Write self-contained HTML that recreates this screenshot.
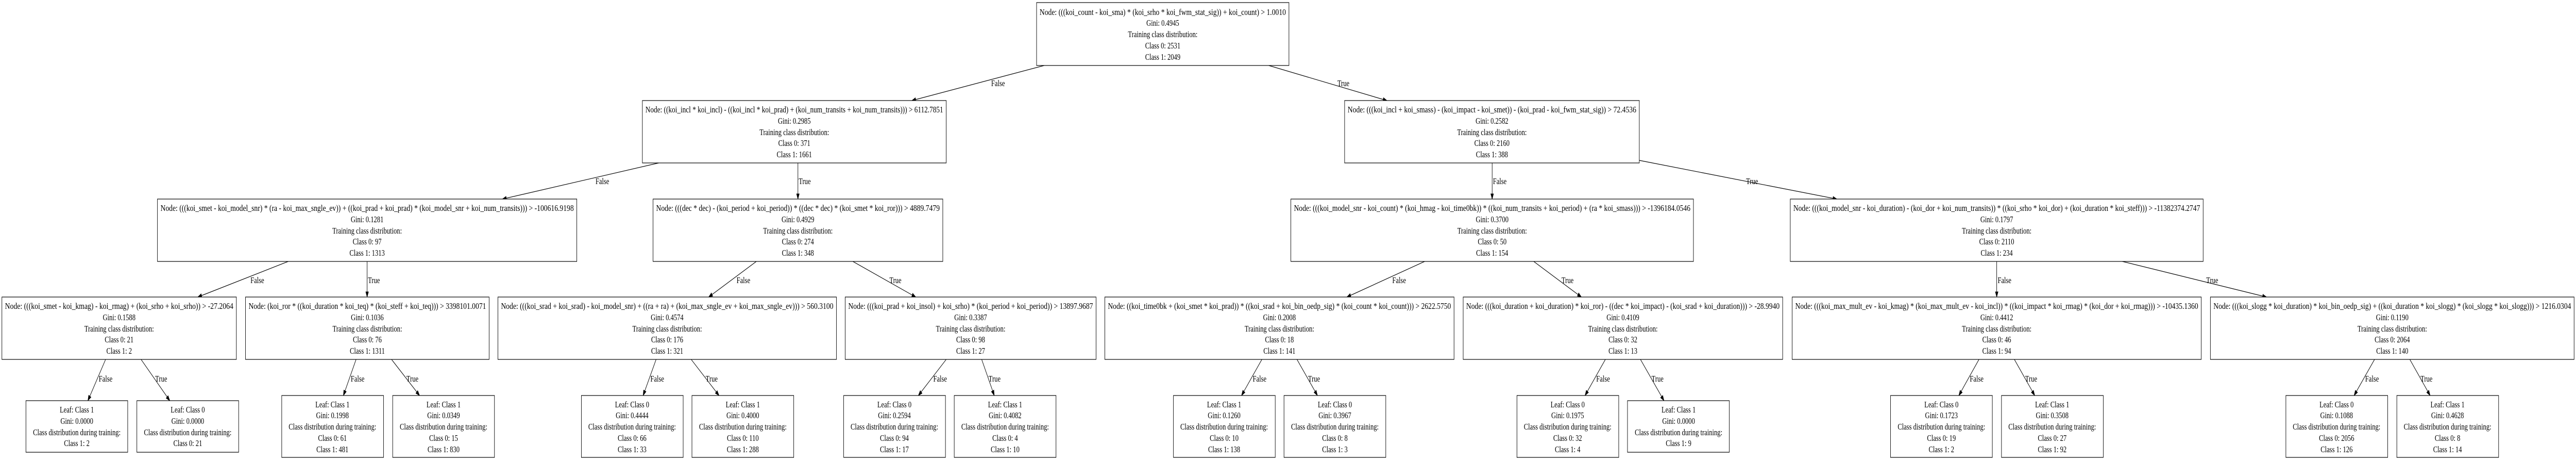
<!DOCTYPE html>
<html><head><meta charset="utf-8"><style>
html,body{margin:0;padding:0;background:#fff;overflow:hidden;width:100%;height:100%;}
svg{display:block;width:100vw;height:100vh;}
text{font-family:"Liberation Serif","Times New Roman",serif;font-size:17px;fill:#000;}
.m{text-anchor:middle;}
rect{fill:#fff;stroke:#000;stroke-width:1.2;}
line{stroke:#000;stroke-width:1.2;}
polygon{fill:#000;stroke:#000;stroke-width:1;}
</style></head><body>
<svg viewBox="0 0 6757 894" preserveAspectRatio="none" xmlns="http://www.w3.org/2000/svg">
<rect x="0" y="0" width="6757" height="894" style="fill:#fff;stroke:none"/>

<line x1="2739" y1="127" x2="2392" y2="195"/><polygon points="2392,195 2402.5,196.5 2401.1,189.7"/>
<text x="2600" y="167">False</text>
<line x1="3328" y1="127" x2="3638" y2="195"/><polygon points="3638,195 3627.5,196.3 3629,189.5"/>
<text x="3508" y="167">True</text>

<line x1="1728" y1="316" x2="1318" y2="386"/><polygon points="1318,386 1328.5,387.8 1327.3,380.9"/>
<text x="1562" y="357">False</text>
<line x1="2093" y1="316" x2="2093" y2="386"/><polygon points="2093,386 2089.5,376 2096.5,376"/>
<text x="2095" y="357">True</text>
<line x1="3914" y1="316" x2="3914" y2="386"/><polygon points="3914,386 3910.5,376 3917.5,376"/>
<text x="3916" y="357">False</text>
<line x1="4300" y1="311" x2="4818" y2="386"/><polygon points="4818,386 4807.6,388.1 4808.6,381.1"/>
<text x="4580" y="357">True</text>

<line x1="756" y1="507" x2="519" y2="576"/><polygon points="519,576 529.6,576.6 527.6,569.8"/>
<text x="657" y="549">False</text>
<line x1="963" y1="507" x2="963" y2="576"/><polygon points="963,576 959.5,566 966.5,566"/>
<text x="965" y="549">True</text>
<line x1="1984" y1="507" x2="1859" y2="576"/><polygon points="1859,576 1869.4,574.3 1866,568.1"/>
<text x="1932" y="549">False</text>
<line x1="2237" y1="507" x2="2402" y2="576"/><polygon points="2402,576 2391.4,575.4 2394.1,568.9"/>
<text x="2333" y="549">True</text>
<line x1="3737" y1="507" x2="3533" y2="576"/><polygon points="3533,576 3543.6,576.1 3541.4,569.5"/>
<text x="3652" y="549">False</text>
<line x1="4023" y1="507" x2="4148" y2="576"/><polygon points="4148,576 4137.6,574.3 4141,568.1"/>
<text x="4096" y="549">True</text>
<line x1="5237.5" y1="507" x2="5237.5" y2="576"/><polygon points="5237.5,576 5234,566 5241,566"/>
<text x="5240" y="549">False</text>
<line x1="5567" y1="507" x2="5945" y2="576"/><polygon points="5945,576 5934.6,577.6 5935.8,570.8"/>
<text x="5787" y="549">True</text>

<line x1="277" y1="697" x2="230.6" y2="777"/><polygon points="230.6,777 238.6,770.2 232.6,766.6"/>
<text x="259" y="740">False</text>
<line x1="370" y1="697" x2="445.3" y2="777"/><polygon points="445.3,777 435.9,772.1 440.9,767.3"/>
<text x="407" y="740">True</text>
<line x1="934" y1="697" x2="900.8" y2="767"/><polygon points="900.8,767 908.3,759.5 901.9,756.5"/>
<text x="920" y="740">False</text>
<line x1="1027" y1="697" x2="1100.5" y2="767"/><polygon points="1100.5,767 1090.9,762.6 1095.7,757.6"/>
<text x="1066" y="740">True</text>
<line x1="1721" y1="697" x2="1687" y2="767"/><polygon points="1687,767 1694.5,759.5 1688.2,756.5"/>
<text x="1706" y="740">False</text>
<line x1="1813" y1="697" x2="1886" y2="767"/><polygon points="1886,767 1876.4,762.6 1881.2,757.6"/>
<text x="1851" y="740">True</text>
<line x1="2482" y1="697" x2="2409" y2="767"/><polygon points="2409,767 2418.6,762.6 2413.8,757.6"/>
<text x="2448" y="740">False</text>
<line x1="2575" y1="697" x2="2608" y2="767"/><polygon points="2608,767 2600.5,759.5 2606.9,756.5"/>
<text x="2593" y="740">True</text>
<line x1="3310" y1="697" x2="3256.7" y2="767"/><polygon points="3256.7,767 3265.6,761.1 3260,756.9"/>
<text x="3286" y="740">False</text>
<line x1="3402" y1="697" x2="3455.7" y2="767"/><polygon points="3455.7,767 3446.8,761.1 3452.4,756.9"/>
<text x="3431" y="740">True</text>
<line x1="4211" y1="697" x2="4157.7" y2="767"/><polygon points="4157.7,767 4166.6,761.1 4161,756.9"/>
<text x="4187" y="740">False</text>
<line x1="4303" y1="697" x2="4364.7" y2="777"/><polygon points="4364.7,777 4355.8,771.2 4361.4,767"/>
<text x="4332" y="740">True</text>
<line x1="5191" y1="697" x2="5138.2" y2="767"/><polygon points="5138.2,767 5147.1,761.1 5141.5,756.9"/>
<text x="5167" y="740">False</text>
<line x1="5283.8" y1="697" x2="5337.2" y2="767"/><polygon points="5337.2,767 5328.3,761.1 5333.9,756.9"/>
<text x="5312" y="740">True</text>
<line x1="6228.6" y1="697" x2="6175" y2="767"/><polygon points="6175,767 6183.9,761.1 6178.3,756.9"/>
<text x="6204" y="740">False</text>
<line x1="6321.1" y1="697" x2="6374.3" y2="767"/><polygon points="6374.3,767 6365.4,761.1 6371,756.9"/>
<text x="6349" y="740">True</text>

<rect x="2719" y="5" width="662" height="122"/>
<text class="m" x="3050" y="29" textLength="646" lengthAdjust="spacingAndGlyphs">Node: (((koi_count - koi_sma) * (koi_srho * koi_fwm_stat_sig)) + koi_count) &gt; 1.0010</text>
<text class="m" x="3050" y="50">Gini: 0.4945</text>
<text class="m" x="3050" y="72">Training class distribution:</text>
<text class="m" x="3050" y="94">Class 0: 2531</text>
<text class="m" x="3050" y="116">Class 1: 2049</text>

<rect x="1685" y="195" width="797" height="121"/>
<text class="m" x="2083.5" y="218" textLength="781" lengthAdjust="spacingAndGlyphs">Node: ((koi_incl * koi_incl) - ((koi_incl * koi_prad) + (koi_num_transits + koi_num_transits))) &gt; 6112.7851</text>
<text class="m" x="2083.5" y="240">Gini: 0.2985</text>
<text class="m" x="2083.5" y="262">Training class distribution:</text>
<text class="m" x="2083.5" y="283">Class 0: 371</text>
<text class="m" x="2083.5" y="305">Class 1: 1661</text>

<rect x="3527" y="195" width="773" height="121"/>
<text class="m" x="3913.5" y="218" textLength="757" lengthAdjust="spacingAndGlyphs">Node: (((koi_incl + koi_smass) - (koi_impact - koi_smet)) - (koi_prad - koi_fwm_stat_sig)) &gt; 72.4536</text>
<text class="m" x="3913.5" y="240">Gini: 0.2582</text>
<text class="m" x="3913.5" y="262">Training class distribution:</text>
<text class="m" x="3913.5" y="283">Class 0: 2160</text>
<text class="m" x="3913.5" y="305">Class 1: 388</text>

<rect x="413" y="386" width="1100" height="121"/>
<text class="m" x="963" y="409" textLength="1084" lengthAdjust="spacingAndGlyphs">Node: (((koi_smet - koi_model_snr) * (ra - koi_max_sngle_ev)) + ((koi_prad + koi_prad) * (koi_model_snr + koi_num_transits))) &gt; -100616.9198</text>
<text class="m" x="963" y="431">Gini: 0.1281</text>
<text class="m" x="963" y="453">Training class distribution:</text>
<text class="m" x="963" y="474">Class 0: 97</text>
<text class="m" x="963" y="496">Class 1: 1313</text>

<rect x="1713" y="386" width="760" height="121"/>
<text class="m" x="2093" y="409" textLength="744" lengthAdjust="spacingAndGlyphs">Node: (((dec * dec) - (koi_period + koi_period)) * ((dec * dec) * (koi_smet * koi_ror))) &gt; 4889.7479</text>
<text class="m" x="2093" y="431">Gini: 0.4929</text>
<text class="m" x="2093" y="453">Training class distribution:</text>
<text class="m" x="2093" y="474">Class 0: 274</text>
<text class="m" x="2093" y="496">Class 1: 348</text>

<rect x="3386" y="386" width="1056" height="121"/>
<text class="m" x="3914" y="409" textLength="1040" lengthAdjust="spacingAndGlyphs">Node: (((koi_model_snr - koi_count) * (koi_hmag - koi_time0bk)) * ((koi_num_transits + koi_period) + (ra * koi_smass))) &gt; -1396184.0546</text>
<text class="m" x="3914" y="431">Gini: 0.3700</text>
<text class="m" x="3914" y="453">Training class distribution:</text>
<text class="m" x="3914" y="474">Class 0: 50</text>
<text class="m" x="3914" y="496">Class 1: 154</text>

<rect x="4696" y="386" width="1083" height="121"/>
<text class="m" x="5237.5" y="409" textLength="1067" lengthAdjust="spacingAndGlyphs">Node: (((koi_model_snr - koi_duration) - (koi_dor + koi_num_transits)) * ((koi_srho * koi_dor) + (koi_duration * koi_steff))) &gt; -11382374.2747</text>
<text class="m" x="5237.5" y="431">Gini: 0.1797</text>
<text class="m" x="5237.5" y="453">Training class distribution:</text>
<text class="m" x="5237.5" y="474">Class 0: 2110</text>
<text class="m" x="5237.5" y="496">Class 1: 234</text>

<rect x="5" y="576" width="615" height="121"/>
<text class="m" x="312.5" y="599" textLength="599" lengthAdjust="spacingAndGlyphs">Node: (((koi_smet - koi_kmag) - koi_rmag) + (koi_srho + koi_srho)) &gt; -27.2064</text>
<text class="m" x="312.5" y="621">Gini: 0.1588</text>
<text class="m" x="312.5" y="643">Training class distribution:</text>
<text class="m" x="312.5" y="664">Class 0: 21</text>
<text class="m" x="312.5" y="686">Class 1: 2</text>

<rect x="644" y="576" width="639" height="121"/>
<text class="m" x="963.5" y="599" textLength="623" lengthAdjust="spacingAndGlyphs">Node: (koi_ror * ((koi_duration * koi_teq) * (koi_steff + koi_teq))) &gt; 3398101.0071</text>
<text class="m" x="963.5" y="621">Gini: 0.1036</text>
<text class="m" x="963.5" y="643">Training class distribution:</text>
<text class="m" x="963.5" y="664">Class 0: 76</text>
<text class="m" x="963.5" y="686">Class 1: 1311</text>

<rect x="1306" y="576" width="888" height="121"/>
<text class="m" x="1750" y="599" textLength="872" lengthAdjust="spacingAndGlyphs">Node: (((koi_srad + koi_srad) - koi_model_snr) + ((ra + ra) + (koi_max_sngle_ev + koi_max_sngle_ev))) &gt; 560.3100</text>
<text class="m" x="1750" y="621">Gini: 0.4574</text>
<text class="m" x="1750" y="643">Training class distribution:</text>
<text class="m" x="1750" y="664">Class 0: 176</text>
<text class="m" x="1750" y="686">Class 1: 321</text>

<rect x="2217" y="576" width="658" height="121"/>
<text class="m" x="2546" y="599" textLength="642" lengthAdjust="spacingAndGlyphs">Node: (((koi_prad + koi_insol) + koi_srho) * (koi_period + koi_period)) &gt; 13897.9687</text>
<text class="m" x="2546" y="621">Gini: 0.3387</text>
<text class="m" x="2546" y="643">Training class distribution:</text>
<text class="m" x="2546" y="664">Class 0: 98</text>
<text class="m" x="2546" y="686">Class 1: 27</text>

<rect x="2898" y="576" width="916" height="121"/>
<text class="m" x="3356" y="599" textLength="900" lengthAdjust="spacingAndGlyphs">Node: ((koi_time0bk + (koi_smet * koi_prad)) * ((koi_srad + koi_bin_oedp_sig) * (koi_count * koi_count))) &gt; 2622.5750</text>
<text class="m" x="3356" y="621">Gini: 0.2008</text>
<text class="m" x="3356" y="643">Training class distribution:</text>
<text class="m" x="3356" y="664">Class 0: 18</text>
<text class="m" x="3356" y="686">Class 1: 141</text>

<rect x="3838" y="576" width="838" height="121"/>
<text class="m" x="4257" y="599" textLength="822" lengthAdjust="spacingAndGlyphs">Node: (((koi_duration + koi_duration) * koi_ror) - ((dec * koi_impact) - (koi_srad + koi_duration))) &gt; -28.9940</text>
<text class="m" x="4257" y="621">Gini: 0.4109</text>
<text class="m" x="4257" y="643">Training class distribution:</text>
<text class="m" x="4257" y="664">Class 0: 32</text>
<text class="m" x="4257" y="686">Class 1: 13</text>

<rect x="4701" y="576" width="1073" height="121"/>
<text class="m" x="5237.5" y="599" textLength="1057" lengthAdjust="spacingAndGlyphs">Node: (((koi_max_mult_ev - koi_kmag) * (koi_max_mult_ev - koi_incl)) * ((koi_impact * koi_rmag) * (koi_dor + koi_rmag))) &gt; -10435.1360</text>
<text class="m" x="5237.5" y="621">Gini: 0.4412</text>
<text class="m" x="5237.5" y="643">Training class distribution:</text>
<text class="m" x="5237.5" y="664">Class 0: 46</text>
<text class="m" x="5237.5" y="686">Class 1: 94</text>

<rect x="5798" y="576" width="954" height="121"/>
<text class="m" x="6275" y="599" textLength="938" lengthAdjust="spacingAndGlyphs">Node: (((koi_slogg * koi_duration) * koi_bin_oedp_sig) + ((koi_duration * koi_slogg) * (koi_slogg * koi_slogg))) &gt; 1216.0304</text>
<text class="m" x="6275" y="621">Gini: 0.1190</text>
<text class="m" x="6275" y="643">Training class distribution:</text>
<text class="m" x="6275" y="664">Class 0: 2064</text>
<text class="m" x="6275" y="686">Class 1: 140</text>

<rect x="68" y="777" width="267" height="100"/>
<text class="m" x="201.5" y="800">Leaf: Class 1</text>
<text class="m" x="201.5" y="822">Gini: 0.0000</text>
<text class="m" x="201.5" y="844">Class distribution during training:</text>
<text class="m" x="201.5" y="865">Class 1: 2</text>

<rect x="359" y="777" width="267" height="100"/>
<text class="m" x="492.5" y="800">Leaf: Class 0</text>
<text class="m" x="492.5" y="822">Gini: 0.0000</text>
<text class="m" x="492.5" y="844">Class distribution during training:</text>
<text class="m" x="492.5" y="865">Class 0: 21</text>

<rect x="739" y="767" width="267" height="120"/>
<text class="m" x="872" y="790">Leaf: Class 1</text>
<text class="m" x="872" y="811">Gini: 0.1998</text>
<text class="m" x="872" y="833">Class distribution during training:</text>
<text class="m" x="872" y="855">Class 0: 61</text>
<text class="m" x="872" y="877">Class 1: 481</text>

<rect x="1030" y="767" width="267" height="120"/>
<text class="m" x="1163.5" y="790">Leaf: Class 1</text>
<text class="m" x="1163.5" y="811">Gini: 0.0349</text>
<text class="m" x="1163.5" y="833">Class distribution during training:</text>
<text class="m" x="1163.5" y="855">Class 0: 15</text>
<text class="m" x="1163.5" y="877">Class 1: 830</text>

<rect x="1525" y="767" width="267" height="120"/>
<text class="m" x="1658" y="790">Leaf: Class 0</text>
<text class="m" x="1658" y="811">Gini: 0.4444</text>
<text class="m" x="1658" y="833">Class distribution during training:</text>
<text class="m" x="1658" y="855">Class 0: 66</text>
<text class="m" x="1658" y="877">Class 1: 33</text>

<rect x="1815" y="767" width="267" height="120"/>
<text class="m" x="1948.5" y="790">Leaf: Class 1</text>
<text class="m" x="1948.5" y="811">Gini: 0.4000</text>
<text class="m" x="1948.5" y="833">Class distribution during training:</text>
<text class="m" x="1948.5" y="855">Class 0: 110</text>
<text class="m" x="1948.5" y="877">Class 1: 288</text>

<rect x="2213" y="767" width="267" height="120"/>
<text class="m" x="2346" y="790">Leaf: Class 0</text>
<text class="m" x="2346" y="811">Gini: 0.2594</text>
<text class="m" x="2346" y="833">Class distribution during training:</text>
<text class="m" x="2346" y="855">Class 0: 94</text>
<text class="m" x="2346" y="877">Class 1: 17</text>

<rect x="2503" y="767" width="267" height="120"/>
<text class="m" x="2636.5" y="790">Leaf: Class 1</text>
<text class="m" x="2636.5" y="811">Gini: 0.4082</text>
<text class="m" x="2636.5" y="833">Class distribution during training:</text>
<text class="m" x="2636.5" y="855">Class 0: 4</text>
<text class="m" x="2636.5" y="877">Class 1: 10</text>

<rect x="3078" y="767" width="267" height="120"/>
<text class="m" x="3211" y="790">Leaf: Class 1</text>
<text class="m" x="3211" y="811">Gini: 0.1260</text>
<text class="m" x="3211" y="833">Class distribution during training:</text>
<text class="m" x="3211" y="855">Class 0: 10</text>
<text class="m" x="3211" y="877">Class 1: 138</text>

<rect x="3368" y="767" width="267" height="120"/>
<text class="m" x="3501.5" y="790">Leaf: Class 0</text>
<text class="m" x="3501.5" y="811">Gini: 0.3967</text>
<text class="m" x="3501.5" y="833">Class distribution during training:</text>
<text class="m" x="3501.5" y="855">Class 0: 8</text>
<text class="m" x="3501.5" y="877">Class 1: 3</text>

<rect x="3979" y="767" width="267" height="120"/>
<text class="m" x="4112" y="790">Leaf: Class 0</text>
<text class="m" x="4112" y="811">Gini: 0.1975</text>
<text class="m" x="4112" y="833">Class distribution during training:</text>
<text class="m" x="4112" y="855">Class 0: 32</text>
<text class="m" x="4112" y="877">Class 1: 4</text>

<rect x="4269" y="777" width="267" height="100"/>
<text class="m" x="4403" y="800">Leaf: Class 1</text>
<text class="m" x="4403" y="822">Gini: 0.0000</text>
<text class="m" x="4403" y="844">Class distribution during training:</text>
<text class="m" x="4403" y="865">Class 1: 9</text>

<rect x="4959" y="767" width="267" height="120"/>
<text class="m" x="5092.5" y="790">Leaf: Class 0</text>
<text class="m" x="5092.5" y="811">Gini: 0.1723</text>
<text class="m" x="5092.5" y="833">Class distribution during training:</text>
<text class="m" x="5092.5" y="855">Class 0: 19</text>
<text class="m" x="5092.5" y="877">Class 1: 2</text>

<rect x="5250" y="767" width="267" height="120"/>
<text class="m" x="5383" y="790">Leaf: Class 1</text>
<text class="m" x="5383" y="811">Gini: 0.3508</text>
<text class="m" x="5383" y="833">Class distribution during training:</text>
<text class="m" x="5383" y="855">Class 0: 27</text>
<text class="m" x="5383" y="877">Class 1: 92</text>

<rect x="5996" y="767" width="267" height="120"/>
<text class="m" x="6129" y="790">Leaf: Class 0</text>
<text class="m" x="6129" y="811">Gini: 0.1088</text>
<text class="m" x="6129" y="833">Class distribution during training:</text>
<text class="m" x="6129" y="855">Class 0: 2056</text>
<text class="m" x="6129" y="877">Class 1: 126</text>

<rect x="6287" y="767" width="267" height="120"/>
<text class="m" x="6420" y="790">Leaf: Class 1</text>
<text class="m" x="6420" y="811">Gini: 0.4628</text>
<text class="m" x="6420" y="833">Class distribution during training:</text>
<text class="m" x="6420" y="855">Class 0: 8</text>
<text class="m" x="6420" y="877">Class 1: 14</text>
</svg>
</body></html>
